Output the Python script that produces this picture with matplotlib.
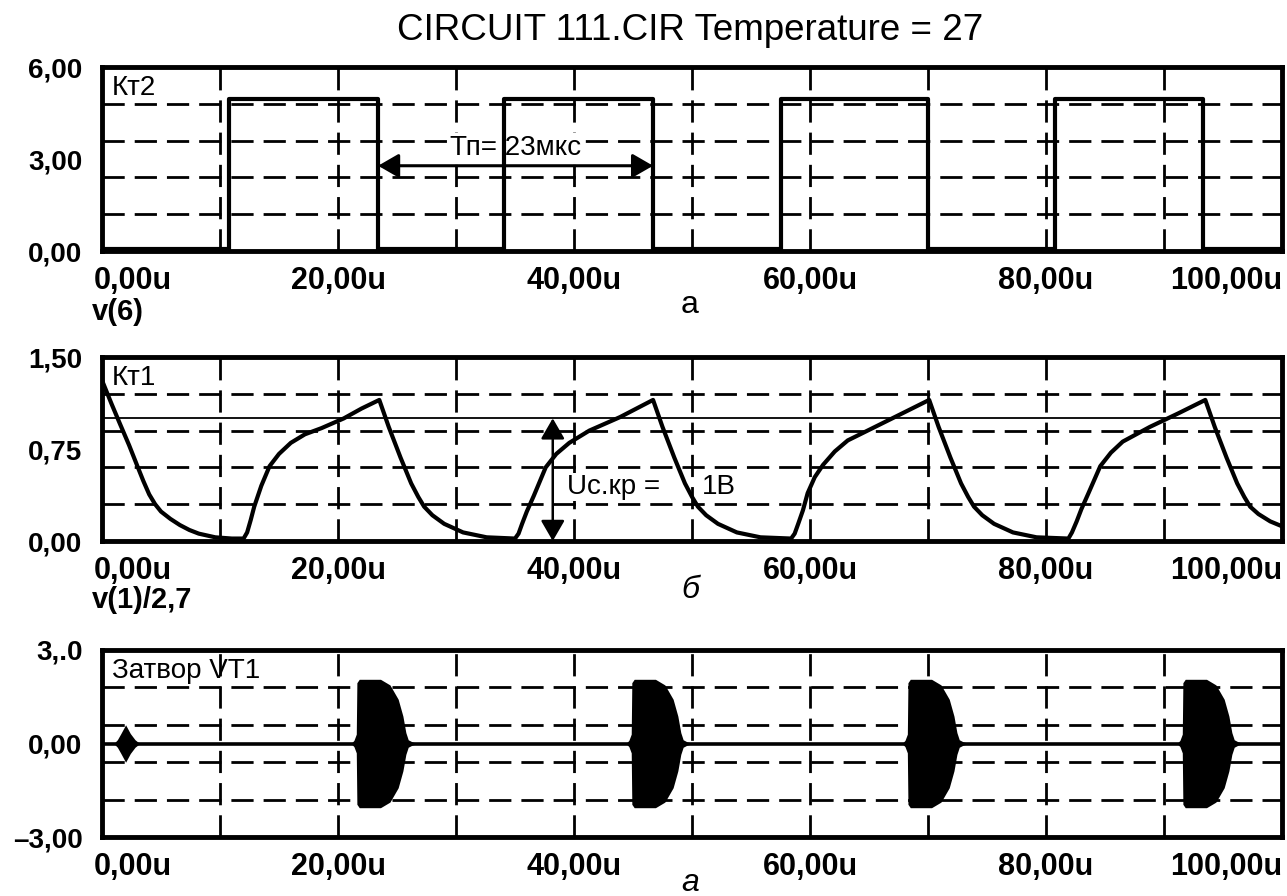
import matplotlib
matplotlib.use('Agg')
import matplotlib.pyplot as plt
import matplotlib.transforms as mtransforms

plt.rcParams['font.family'] = ['Liberation Sans', 'DejaVu Sans']

# time axis (microseconds)
x_ticks = [0, 20, 40, 60, 80, 100]
x_tick_labels = ['0,00u', '20,00u', '40,00u', '60,00u', '80,00u', '100,00u']
x_grid = [10, 20, 30, 40, 50, 60, 70, 80, 90]

# v(6) - control pulses
pulse_rise = [10.8, 34.1, 57.5, 80.8]
pulse_fall = [23.4, 46.7, 70.0, 93.3]
pulse_high = 4.95
pulse_low = 0.08
period_label = 'Тп= 23мкс'

# v(1)/2,7 - capacitor voltage
vc_t = [0.0, 0.8, 1.5, 2.3, 3.0, 3.5, 4.0, 4.5, 5.0, 5.8, 6.6, 7.4, 8.2, 9.6, 11.0, 12.0,
        12.3, 12.6, 12.9, 13.5, 14.2, 15.0, 16.0, 17.2, 18.6, 20.5, 22.0, 23.5,
        24.3, 25.3, 26.2, 26.8, 27.3, 28.0, 29.0, 30.6, 32.6, 35.0,
        35.3, 35.6, 36.0, 36.6, 37.6, 38.5, 39.6, 41.3, 43.9, 45.3, 46.7,
        47.5, 48.5, 49.4, 50.0, 50.5, 51.2, 52.2, 53.8, 55.8, 58.4,
        58.7, 59.0, 59.4, 59.8, 60.4, 61.1, 62.1, 63.2, 65.3, 67.6, 70.1,
        70.9, 71.9, 72.8, 73.4, 73.9, 74.6, 75.6, 77.2, 79.2, 81.9,
        82.2, 82.6, 83.0, 83.6, 84.6, 85.5, 86.5, 88.8, 91.2, 93.5,
        94.3, 95.3, 96.2, 96.8, 97.3, 98.0, 99.0, 100.0]
vc_v = [1.31, 1.12, 0.96, 0.78, 0.61, 0.49, 0.38, 0.30, 0.24, 0.18, 0.13, 0.09, 0.06, 0.03, 0.02, 0.02,
        0.07, 0.17, 0.28, 0.45, 0.61, 0.71, 0.80, 0.87, 0.92, 1.00, 1.08, 1.15,
        0.93, 0.68, 0.47, 0.36, 0.28, 0.21, 0.14, 0.07, 0.03, 0.02,
        0.06, 0.14, 0.24, 0.37, 0.60, 0.71, 0.80, 0.90, 1.01, 1.08, 1.15,
        0.93, 0.68, 0.47, 0.36, 0.28, 0.21, 0.14, 0.07, 0.03, 0.02,
        0.06, 0.14, 0.25, 0.39, 0.52, 0.62, 0.73, 0.82, 0.92, 1.03, 1.15,
        0.93, 0.68, 0.47, 0.36, 0.28, 0.21, 0.14, 0.07, 0.03, 0.02,
        0.07, 0.16, 0.26, 0.39, 0.61, 0.72, 0.81, 0.93, 1.04, 1.15,
        0.93, 0.68, 0.47, 0.36, 0.28, 0.22, 0.16, 0.12]
vc_crit = 1.0
vc_arrow_t = 38.2

# gate VT1 - envelope of the oscillation bursts
gate_t = [0.0, 1.0, 1.3, 1.6, 2.0, 2.4, 2.8, 3.2,
          21.1, 21.35, 21.55, 21.6, 21.8, 23.6, 24.4, 25.1, 25.5, 25.75, 25.95, 26.3, 26.8,
          44.4, 44.65, 44.85, 44.9, 45.1, 46.9, 47.7, 48.4, 48.8, 49.05, 49.25, 49.6, 50.1,
          67.8, 68.05, 68.25, 68.3, 68.5, 70.3, 71.1, 71.8, 72.2, 72.45, 72.65, 73.0, 73.5,
          91.1, 91.35, 91.55, 91.6, 91.8, 93.6, 94.4, 95.1, 95.5, 95.75, 95.95, 96.3, 96.8,
          100.0]
gate_amp = [0.0, 0.0, 0.12, 0.32, 0.6, 0.32, 0.12, 0.0,
            0.0, 0.1, 0.3, 1.95, 2.06, 2.06, 1.88, 1.42, 0.88, 0.35, 0.12, 0.05, 0.0,
            0.0, 0.1, 0.3, 1.95, 2.06, 2.06, 1.88, 1.42, 0.88, 0.35, 0.12, 0.05, 0.0,
            0.0, 0.1, 0.3, 1.95, 2.06, 2.06, 1.88, 1.42, 0.88, 0.35, 0.12, 0.05, 0.0,
            0.0, 0.1, 0.3, 1.95, 2.06, 2.06, 1.88, 1.42, 0.88, 0.35, 0.12, 0.05, 0.0,
            0.0]

GRID_DASH = (0, (8.0, 3.6))
SIG_LW = 3.0
ARROW = '<|-|>,head_length=0.45,head_width=0.26'

fig = plt.figure(figsize=(12.87, 8.96), dpi=100)
left, width = 102 / 1287, 1180 / 1287
ax1 = fig.add_axes([left, 1 - 251 / 896, width, 184 / 896])
ax2 = fig.add_axes([left, 1 - 541 / 896, width, 184 / 896])
ax3 = fig.add_axes([left, 1 - 837 / 896, width, 187 / 896])


def setup_panel(ax, ylim, yticks, ylabels, ygrid, name):
    ax.set_xlim(0, 100)
    ax.set_ylim(*ylim)
    ax.set_xticks(x_ticks)
    ax.set_xticklabels(x_tick_labels, fontsize=22, fontweight='bold')
    ax.set_yticks(yticks)
    ax.set_yticklabels(ylabels, fontsize=20, fontweight='bold')
    ax.tick_params(axis='x', length=0, pad=11)
    ax.tick_params(axis='y', length=0, pad=14)
    labels = ax.get_xticklabels()
    labels[0].set_ha('left')
    labels[0].set_transform(labels[0].get_transform() +
                            mtransforms.ScaledTranslation(-8 / 100, 0, fig.dpi_scale_trans))
    labels[-1].set_ha('right')
    for s in ax.spines.values():
        s.set_linewidth(3.5)
    for gx in x_grid:
        ax.axvline(gx, color='black', lw=2.0, linestyle=GRID_DASH, zorder=1)
    for gy in ygrid:
        ax.axhline(gy, color='black', lw=2.0, linestyle=GRID_DASH, zorder=1)
    ax.text(0.0085, 0.85, name, transform=ax.transAxes, fontsize=20,
            ha='left', va='baseline')


# panel a: v(6)
setup_panel(ax1, (0, 6), [0, 3, 6], ['0,00', '3,00', '6,00'],
            [1.2, 2.4, 3.6, 4.8], 'Кт2')
t6 = [0]
v6 = [pulse_low]
for r, f in zip(pulse_rise, pulse_fall):
    t6 += [r, r, f, f]
    v6 += [pulse_low, pulse_high, pulse_high, pulse_low]
t6.append(100)
v6.append(pulse_low)
ax1.plot(t6, v6, color='black', lw=SIG_LW, zorder=3)
ax1.annotate('', xy=(pulse_fall[1], 2.78), xytext=(pulse_fall[0], 2.78),
             arrowprops=dict(arrowstyle=ARROW, color='black', lw=2.2,
                             mutation_scale=28, shrinkA=0, shrinkB=0), zorder=2.6)
ax1.text(29.5, 3.35, period_label, fontsize=20, ha='left', va='center', zorder=2,
         bbox=dict(facecolor='white', edgecolor='none', pad=1.5))

# panel b: v(1)/2,7
setup_panel(ax2, (0, 1.5), [0, 0.75, 1.5], ['0,00', '0,75', '1,50'],
            [0.3, 0.6, 0.9, 1.2], 'Кт1')
ax2.axhline(vc_crit, color='black', lw=1.3, zorder=2)
ax2.plot(vc_t, vc_v, color='black', lw=SIG_LW, zorder=3, solid_joinstyle='round')
ax2.annotate('', xy=(vc_arrow_t, vc_crit), xytext=(vc_arrow_t, 0),
             arrowprops=dict(arrowstyle=ARROW, color='black', lw=1.8,
                             mutation_scale=28, shrinkA=0, shrinkB=0), zorder=2.6)
ax2.text(39.4, 0.44, 'Uс.кр =', fontsize=20, ha='left', va='center', zorder=2,
         bbox=dict(facecolor='white', edgecolor='none', pad=1))
ax2.text(50.8, 0.44, '1В', fontsize=20, ha='left', va='center', zorder=2,
         bbox=dict(facecolor='white', edgecolor='none', pad=1))

# panel c: gate of VT1
setup_panel(ax3, (-3, 3), [-3, 0, 3], ['–3,00', '0,00', '3,.0'],
            [-1.8, -0.6, 0.6, 1.8], 'Затвор VT1')
ax3.plot([0, 100], [0, 0], color='black', lw=2.6, zorder=3)
ax3.fill_between(gate_t, [-a for a in gate_amp], gate_amp,
                 color='black', lw=0, zorder=3)

# captions
fig.text(690 / 1287, 1 - 30 / 896, 'CIRCUIT 111.CIR Temperature = 27',
         fontsize=26.5, ha='center', va='center')
fig.text(92 / 1287, 1 - 312 / 896, 'v(6)', fontsize=21, fontweight='bold',
         ha='left', va='center')
fig.text(92 / 1287, 1 - 600 / 896, 'v(1)/2,7', fontsize=21, fontweight='bold',
         ha='left', va='center')
fig.text(690 / 1287, 1 - 305 / 896, 'а', fontsize=23, ha='center', va='center')
fig.text(690 / 1287, 1 - 590 / 896, 'б', fontsize=23, style='italic',
         ha='center', va='center')
fig.text(690 / 1287, 1 - 883 / 896, 'а', fontsize=23, style='italic',
         ha='center', va='center')

fig.savefig('out.png', dpi=100)
